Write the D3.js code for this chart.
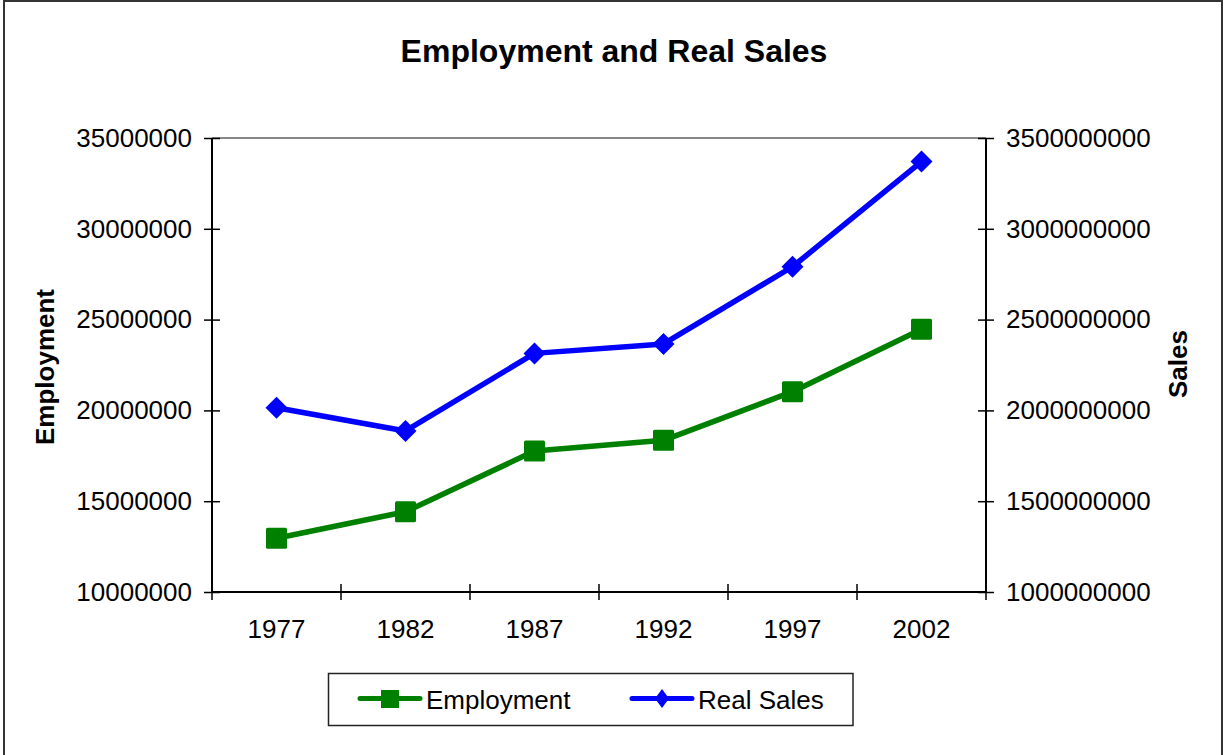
<!DOCTYPE html>
<html>
<head>
<meta charset="utf-8">
<script src="https://cdn.jsdelivr.net/npm/d3@7/dist/d3.min.js"></script>
<style>
  html, body { margin: 0; padding: 0; background: #fff; }
  svg { display: block; font-family: "Liberation Sans", Arial, sans-serif; }
</style>
</head>
<body>
<svg id="chart" width="1225" height="755"></svg>
<script>
// Census years
const years = ["1977", "1982", "1987", "1992", "1997", "2002"];
// Employment (left axis)
const employment = [12960000, 14420000, 17760000, 18350000, 21030000, 24470000];
// Real sales (right axis)
const realSales = [2015000000, 1887000000, 2314000000, 2366000000, 2791000000, 3370000000];
// Axis tick values
const leftTicks = [10000000, 15000000, 20000000, 25000000, 30000000, 35000000];
const rightTicks = [1000000000, 1500000000, 2000000000, 2500000000, 3000000000, 3500000000];

const svg = d3.select("#chart");
const W = 1225, H = 755;
const plot = { left: 212, right: 986, top: 138, bottom: 592 };

const GREEN = "#008000", BLUE = "#0000ff";
const TICK_FONT = 26;

// Outer chart frame
svg.append("rect")
  .attr("x", 4).attr("y", 1)
  .attr("width", 1218).attr("height", H + 10)
  .attr("fill", "#fff").attr("stroke", "#333").attr("stroke-width", 2);

// Title
svg.append("text")
  .attr("x", 614).attr("y", 62)
  .attr("text-anchor", "middle")
  .attr("font-size", 32).attr("font-weight", "bold")
  .text("Employment and Real Sales");

const x = d3.scaleBand().domain(years).range([plot.left, plot.right]);
const yL = d3.scaleLinear().domain([10000000, 35000000]).range([plot.bottom, plot.top]);
const yR = d3.scaleLinear().domain([1000000000, 3500000000]).range([plot.bottom, plot.top]);
const fmt = d3.format("d");

// Plot area top edge (gray)
svg.append("line")
  .attr("x1", plot.left).attr("x2", plot.right)
  .attr("y1", plot.top).attr("y2", plot.top)
  .attr("stroke", "#888").attr("stroke-width", 2);

// Left axis
const gL = svg.append("g")
  .attr("transform", `translate(${plot.left},0)`)
  .call(d3.axisLeft(yL).tickValues(leftTicks).tickFormat(fmt).tickSize(8).tickPadding(12));
gL.selectAll(".tick line").attr("x1", 8).attr("x2", -8).attr("stroke", "#000").attr("stroke-width", 1.5);

// Right axis
const gR = svg.append("g")
  .attr("transform", `translate(${plot.right},0)`)
  .call(d3.axisRight(yR).tickValues(rightTicks).tickFormat(fmt).tickSize(8).tickPadding(12));
gR.selectAll(".tick line").attr("x1", -8).attr("x2", 8).attr("stroke", "#000").attr("stroke-width", 1.5);

// Bottom axis: labels at band centres, ticks at band boundaries
const gB = svg.append("g")
  .attr("transform", `translate(0,${plot.bottom})`)
  .call(d3.axisBottom(x).tickSize(0).tickPadding(28));
const boundaries = years.map(y => x(y)).concat([x(years[years.length - 1]) + x.bandwidth()]);
gB.selectAll(".bnd").data(boundaries).enter().append("line")
  .attr("class", "bnd")
  .attr("x1", d => d).attr("x2", d => d)
  .attr("y1", -8).attr("y2", 8)
  .attr("stroke", "#000").attr("stroke-width", 1.5);

[gL, gR, gB].forEach(g => {
  g.select(".domain").attr("stroke", "#000").attr("stroke-width", 2);
  g.selectAll(".tick text").attr("font-size", TICK_FONT).attr("fill", "#000")
    .attr("font-family", "'Liberation Sans', Arial, sans-serif");
});
gB.select(".domain").attr("d", `M${plot.left},0H${plot.right}`);
gL.select(".domain").attr("d", `M0,${plot.bottom}V${plot.top}`);
gR.select(".domain").attr("d", `M0,${plot.bottom}V${plot.top}`);

// Axis titles
svg.append("text")
  .attr("transform", "translate(54,367) rotate(-90)")
  .attr("text-anchor", "middle")
  .attr("font-size", 26).attr("font-weight", "bold")
  .text("Employment");
svg.append("text")
  .attr("transform", "translate(1187,364) rotate(-90)")
  .attr("text-anchor", "middle")
  .attr("font-size", 26).attr("font-weight", "bold")
  .text("Sales");

const cx = d => x(d) + x.bandwidth() / 2;

// Employment series
const empData = years.map((yr, i) => ({ yr, v: employment[i] }));
svg.append("path")
  .datum(empData)
  .attr("fill", "none").attr("stroke", GREEN).attr("stroke-width", 5.5)
  .attr("stroke-linejoin", "round")
  .attr("d", d3.line().x(d => cx(d.yr)).y(d => yL(d.v)));
svg.selectAll(".emp").data(empData).enter().append("rect")
  .attr("class", "emp")
  .attr("x", d => cx(d.yr) - 10.5).attr("y", d => yL(d.v) - 10.5)
  .attr("width", 21).attr("height", 21).attr("rx", 1.5)
  .attr("fill", GREEN);

// Real sales series
const salesData = years.map((yr, i) => ({ yr, v: realSales[i] }));
svg.append("path")
  .datum(salesData)
  .attr("fill", "none").attr("stroke", BLUE).attr("stroke-width", 5.5)
  .attr("stroke-linejoin", "round")
  .attr("d", d3.line().x(d => cx(d.yr)).y(d => yR(d.v)));
svg.selectAll(".sal").data(salesData).enter().append("path")
  .attr("class", "sal")
  .attr("transform", d => `translate(${cx(d.yr)},${yR(d.v)})`)
  .attr("d", "M0,-11L11,0L0,11L-11,0Z")
  .attr("fill", BLUE);

// Legend
const lg = svg.append("g");
lg.append("rect")
  .attr("x", 328.5).attr("y", 673.5).attr("width", 524.5).attr("height", 52)
  .attr("fill", "#fff").attr("stroke", "#222").attr("stroke-width", 1.5);
lg.append("line")
  .attr("x1", 360).attr("x2", 420).attr("y1", 698.5).attr("y2", 698.5)
  .attr("stroke", GREEN).attr("stroke-width", 5).attr("stroke-linecap", "round");
lg.append("rect")
  .attr("x", 381).attr("y", 690).attr("width", 18).attr("height", 18).attr("fill", GREEN);
lg.append("text")
  .attr("x", 426).attr("y", 709).attr("font-size", 26).text("Employment");
lg.append("line")
  .attr("x1", 632).attr("x2", 692).attr("y1", 698.5).attr("y2", 698.5)
  .attr("stroke", BLUE).attr("stroke-width", 5).attr("stroke-linecap", "round");
lg.append("path")
  .attr("transform", "translate(662,698.5)")
  .attr("d", "M0,-9.5L7,0L0,9.5L-7,0Z").attr("fill", BLUE);
lg.append("text")
  .attr("x", 698).attr("y", 709).attr("font-size", 26).text("Real Sales");
</script>
</body>
</html>
